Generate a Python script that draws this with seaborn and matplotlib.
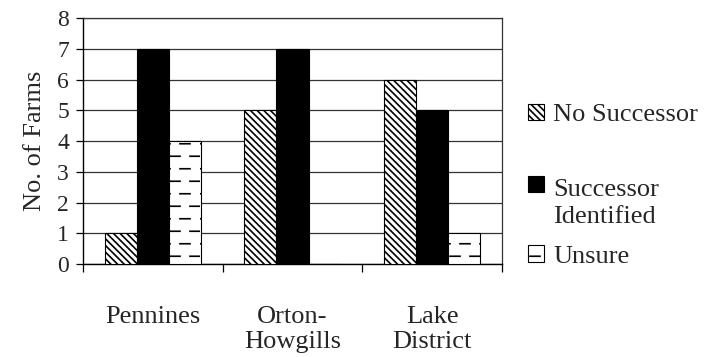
import warnings
warnings.filterwarnings("ignore")
import numpy as np
import pandas as pd
import matplotlib
matplotlib.use("Agg")
import matplotlib.pyplot as plt
import matplotlib.hatch as mhatch
from matplotlib.path import Path
from matplotlib.patches import Patch, Rectangle
from matplotlib.legend_handler import HandlerPatch
import seaborn as sns

regions = ["Pennines", "Orton-\nHowgills", "Lake\nDistrict"]
statuses = ["No Successor", "Successor\nIdentified", "Unsure"]
no_successor = [1, 5, 6]
successor_identified = [7, 7, 5]
unsure = [4, 0, 1]
y_ticks = [0, 1, 2, 3, 4, 5, 6, 7, 8]


class DashHatch(mhatch.HatchPatternBase):
    """Staggered short horizontal dashes."""
    def __init__(self, hatch, density):
        n = hatch.count('d')
        self.rows = 8 if n else 0
        self.cols = 5
        self.num_vertices = self.rows * self.cols * 2

    def set_vertices_and_codes(self, vertices, codes):
        k = 0
        p = 1.0 / self.cols
        for r in range(self.rows):
            y = (r + 0.5) / self.rows
            off = 0.0 if r % 2 == 0 else p / 2
            for c in range(self.cols):
                x0 = c * p + off
                vertices[k] = (x0, y)
                vertices[k + 1] = (x0 + p / 2, y)
                codes[k] = Path.MOVETO
                codes[k + 1] = Path.LINETO
                k += 2


if DashHatch not in mhatch._hatch_types:
    mhatch._hatch_types.append(DashHatch)

sns.set_theme(style="white")
plt.rcParams['font.family'] = ['Liberation Serif', 'DejaVu Serif']
plt.rcParams['hatch.linewidth'] = 1.2
plt.rcParams['hatch.color'] = 'black'

FS = 19

df = pd.DataFrame({
    "region": np.repeat(regions, 3),
    "status": statuses * 3,
    "farms": [v for trio in zip(no_successor, successor_identified, unsure) for v in trio],
})

fig = plt.figure(figsize=(7.05, 3.57), dpi=100)
ax = fig.add_axes([0.1177, 0.2605, 0.5943, 0.689])

palette = {statuses[0]: "white", statuses[1]: "black", statuses[2]: "white"}
sns.barplot(data=df, x="region", y="farms", hue="status", hue_order=statuses,
            order=regions, palette=palette, width=0.69, edgecolor="black",
            linewidth=0.8, saturation=1, ax=ax, legend=False, zorder=3)

hatches = ['\\\\\\\\\\', '', 'd']
for cont, h in zip(ax.containers, hatches):
    for bar in cont:
        bar.set_hatch(h)
        bar.set_edgecolor('black')

ax.set_ylim(0, 8)
ax.set_xlim(-0.5, 2.5)
ax.set_yticks(y_ticks)
ax.set_yticklabels([str(t) for t in y_ticks], fontsize=17)
ax.yaxis.grid(True, color='#333333', linewidth=0.9, zorder=0)
ax.set_axisbelow(True)
ax.set_xlabel("")
ax.set_ylabel("No. of Farms", fontsize=FS, labelpad=8)
ax.tick_params(axis='x', which='major', length=0, labelsize=FS, pad=30)
ax.tick_params(axis='y', which='major', length=5, width=0.9, color='black',
               direction='out', labelsize=17, pad=5, left=True)
ax.set_xticks([-0.5, 0.5, 1.5, 2.5], minor=True)
ax.tick_params(axis='x', which='minor', length=6, width=0.9, color='black',
               direction='out', bottom=True)
for lbl in ax.get_xticklabels():
    lbl.set_linespacing(1.2)
    lbl.set_verticalalignment('top')

for s in ['left', 'bottom']:
    ax.spines[s].set_color('black')
    ax.spines[s].set_linewidth(1.0)
for s in ['top', 'right']:
    ax.spines[s].set_color('#333333')
    ax.spines[s].set_linewidth(0.9)


def first_line_square(legend, orig_handle, xdescent, ydescent, width, height, fontsize):
    # place the key next to the first line of a two-line label
    return Rectangle((-xdescent, -ydescent + fontsize * 0.72), width, height)


handles = [Patch(facecolor='white', edgecolor='black', hatch=hatches[0], linewidth=0.8),
           Patch(facecolor='black', edgecolor='black', hatch='', linewidth=0.8),
           Patch(facecolor='white', edgecolor='black', hatch=hatches[2], linewidth=0.8)]
common = dict(loc='center left', frameon=False, fontsize=FS, handlelength=0.6,
              handleheight=0.6, handletextpad=0.35, borderpad=0, borderaxespad=0)
leg1 = fig.legend(handles[:1], statuses[:1], bbox_to_anchor=(0.749, 0.678), **common)
leg2 = fig.legend(handles[1:], statuses[1:], bbox_to_anchor=(0.749, 0.374),
                  labelspacing=0.63,
                  handler_map={handles[1]: HandlerPatch(patch_func=first_line_square)},
                  **common)
for leg in (leg1, leg2):
    for t in leg.get_texts():
        t.set_linespacing(1.3)

fig.savefig("out.png", dpi=100)
